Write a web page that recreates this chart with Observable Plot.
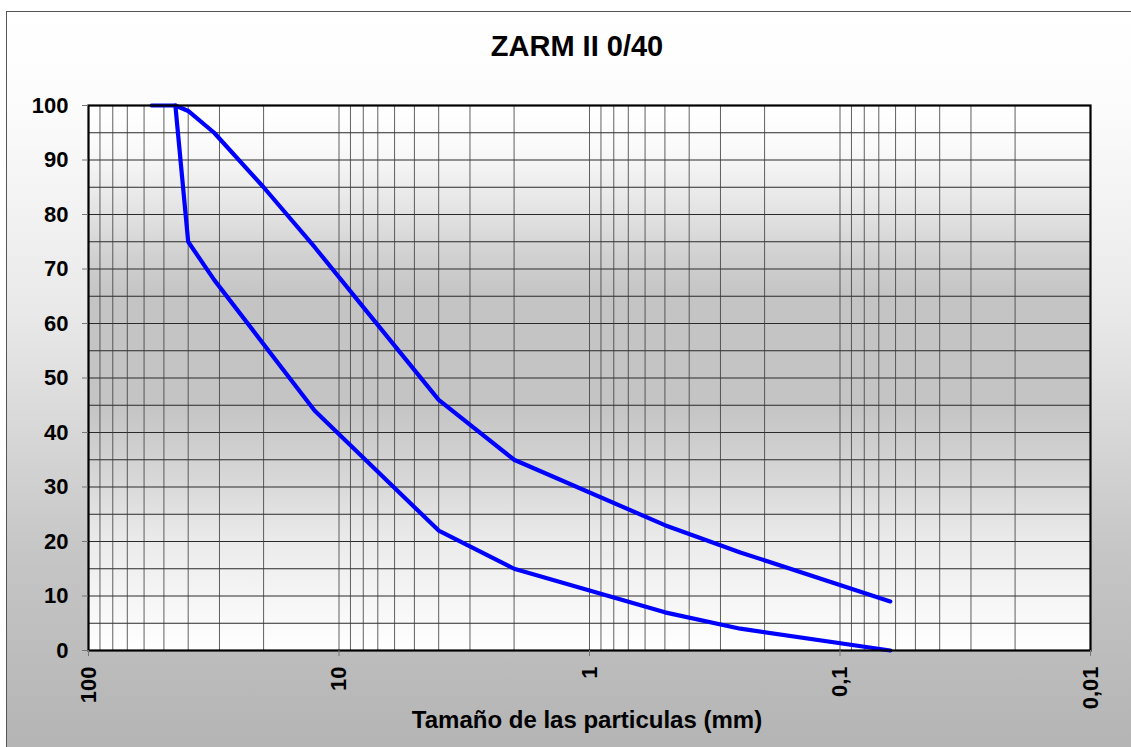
<!DOCTYPE html>
<html>
<head>
<meta charset="utf-8">
<script src="https://cdn.jsdelivr.net/npm/d3@7"></script>
<script src="https://cdn.jsdelivr.net/npm/@observablehq/plot@0.6"></script>
<style>
  html, body { margin: 0; padding: 0; background: #fff; }
  #wrap { position: relative; width: 1131px; height: 747px; overflow: hidden; background: #fff;
          font-family: "Liberation Sans", Arial, sans-serif; }
  #panel { position: absolute; left: 6px; top: 11px; width: 1140px; height: 750px;
           border: 1px solid #555; box-sizing: border-box;
           background: linear-gradient(to bottom, #ffffff 0%, #fcfcfc 12%, #e9e9e9 40%, #c6c6c6 72%, #b3b3b3 100%); }
  #chart { position: absolute; left: 0; top: 0; }
  #title { position: absolute; left: 0; width: 1154px; top: 32px; text-align: center;
           font-size: 29px; line-height: 29px; font-weight: bold; color: #000; }
  #xlabel { position: absolute; left: 0; width: 1174px; top: 708px; text-align: center;
            font-size: 24px; line-height: 24px; font-weight: bold; color: #000; }
</style>
</head>
<body>
<div id="wrap">
  <div id="panel"></div>
  <div id="chart"></div>
  <div id="title">ZARM II 0/40</div>
  <div id="xlabel">Tamaño de las particulas (mm)</div>
</div>
<script>
// Particle size (mm) and % passing for the upper and lower grading limits
const upperSize = [56, 45, 40, 31.5, 20, 12.5, 8, 4, 2, 0.5, 0.25, 0.063];
const upperPass = [100, 100, 99, 95, 85, 74, 63, 46, 35, 23, 18, 9];
const lowerSize = [45, 40, 31.5, 12.5, 4, 2, 0.5, 0.25, 0.063];
const lowerPass = [100, 75, 68, 44, 22, 15, 7, 4, 0];

// Axis ticks and labels
const xTicks = [100, 10, 1, 0.1, 0.01];
const xTickLabels = ["100", "10", "1", "0,1", "0,01"];
const yTicks = [0, 10, 20, 30, 40, 50, 60, 70, 80, 90, 100];

// Grid positions
const decades = [0.01, 0.1, 1, 10];
const mult = [1, 2, 3, 4, 5, 6, 7, 8, 9];
const xGrid = decades.flatMap(d => mult.map(m => +(d * m).toPrecision(6))).concat([100]);
const yGrid = d3.range(0, 101, 5);

const upper = upperSize.map((s, i) => ({size: s, pass: upperPass[i]}));
const lower = lowerSize.map((s, i) => ({size: s, pass: lowerPass[i]}));

const labelMap = new Map(xTicks.map((t, i) => [t, xTickLabels[i]]));

const chart = Plot.plot({
  width: 1131,
  height: 747,
  marginLeft: 88,
  marginRight: 41,
  marginTop: 105,
  marginBottom: 97,
  style: {background: "transparent", fontFamily: "'Liberation Sans', Arial, sans-serif", color: "#000"},
  x: {type: "log", domain: [100, 0.01], label: null},
  y: {domain: [0, 100], label: null},
  marks: [
    Plot.frame({fill: "url(#plotGrad)", stroke: null}),
    Plot.ruleY(yGrid, {stroke: "#2a2a2a", strokeWidth: 1}),
    Plot.ruleX(xGrid, {stroke: "#3a3a3a", strokeWidth: 1, strokeOpacity: 0.8}),
    Plot.line(upper, {x: "size", y: "pass", stroke: "#0000ff", strokeWidth: 4.2, strokeLinejoin: "miter"}),
    Plot.line(lower, {x: "size", y: "pass", stroke: "#0000ff", strokeWidth: 4.2, strokeLinejoin: "miter"}),
    Plot.frame({stroke: "#000", strokeWidth: 2.2}),
    Plot.axisY({ticks: yTicks, tickSize: 6, tickPadding: 14, fontSize: 22, fontWeight: "bold",
                stroke: "#777", fill: "#000", label: null}),
    Plot.axisX({ticks: xTicks, tickFormat: d => labelMap.get(d) ?? "", tickRotate: -90,
                tickSize: 6, tickPadding: 10, fontSize: 22, fontWeight: "bold",
                stroke: "#777", fill: "#000", label: null})
  ]
});

// plot-area gradient (white at top, gray in the middle, white at the bottom)
const ns = "http://www.w3.org/2000/svg";
const defs = document.createElementNS(ns, "defs");
const grad = document.createElementNS(ns, "linearGradient");
grad.setAttribute("id", "plotGrad");
grad.setAttribute("x1", "0"); grad.setAttribute("y1", "0");
grad.setAttribute("x2", "0"); grad.setAttribute("y2", "1");
[[0, "#ffffff"], [0.08, "#fafafa"], [0.19, "#e4e4e4"], [0.28, "#d0d0d0"], [0.35, "#c4c4c4"],
 [0.55, "#c4c4c4"], [0.69, "#d8d8d8"], [0.80, "#ebebeb"], [1, "#ffffff"]].forEach(([o, c]) => {
  const st = document.createElementNS(ns, "stop");
  st.setAttribute("offset", o);
  st.setAttribute("stop-color", c);
  grad.appendChild(st);
});
defs.appendChild(grad);
chart.insertBefore(defs, chart.firstChild);

document.getElementById("chart").appendChild(chart);
</script>
</body>
</html>
